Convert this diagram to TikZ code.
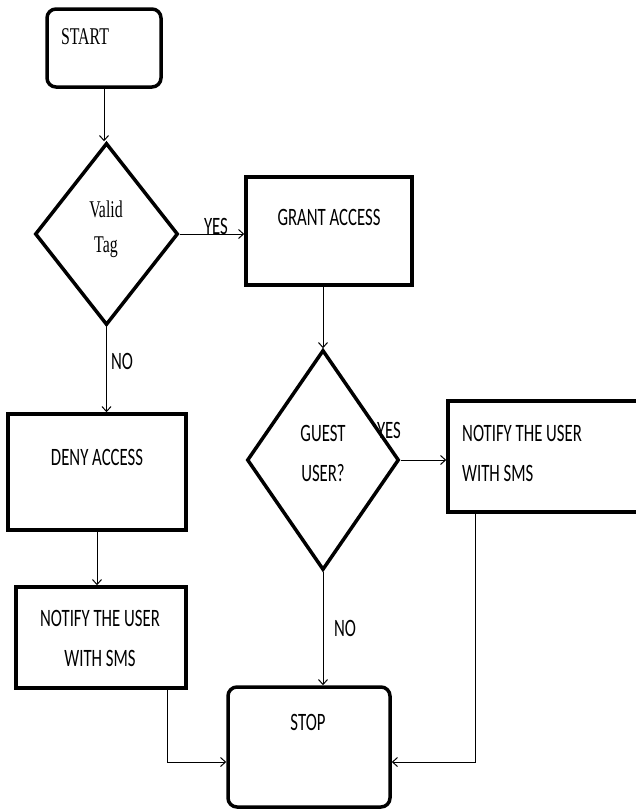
\documentclass[tikz,border=0pt]{standalone}
\usepackage{fontspec}
\newfontfamily\sansf[FakeStretch=0.67]{Carlito}
\newfontfamily\seriff[FakeStretch=0.66]{Liberation Serif}
\usetikzlibrary{arrows.meta,shapes.geometric}
\begin{document}
\begin{tikzpicture}[x=1pt,y=-1pt,
  box/.style={draw,line width=3.5pt,rectangle,inner sep=0pt},
  rbox/.style={box,rounded corners=9pt},
  dia/.style={draw,line width=3.5pt,diamond,inner sep=0pt},
  conn/.style={line width=1pt,-{Straight Barb[length=5pt,width=9pt]}},
  txt/.style={inner sep=0pt,font=\sansf\fontsize{25}{40}\selectfont},
  stxt/.style={inner sep=0pt,font=\seriff\fontsize{24}{35}\selectfont}]
\useasboundingbox (0,0) rectangle (636,809);
\clip (0,0) rectangle (636,809);
% shapes
\node[rbox,minimum width=114pt,minimum height=78pt] (start) at (104,48) {};
\node[dia,minimum width=143pt,minimum height=182pt] (valid) at (106.5,234) {};
\node[box,minimum width=166pt,minimum height=108pt] (grant) at (329,231) {};
\node[dia,minimum width=152pt,minimum height=220pt] (guest) at (323,460) {};
\node[box,minimum width=197pt,minimum height=111pt] (notr) at (546.5,456.5) {};
\node[box,minimum width=178pt,minimum height=116pt] (deny) at (97,472) {};
\node[box,minimum width=170pt,minimum height=101pt] (notl) at (101,637.5) {};
\node[rbox,minimum width=162pt,minimum height=120pt] (stop) at (309,747) {};
% texts
\node[stxt] (tstart) at (85,37) {START};
\node[stxt,align=center] (tvalid) at (106,229) {Valid\\Tag};
\node[txt] (tgrant) at (329,217) {GRANT ACCESS};
\node[txt,align=center] (tguest) at (323,453) {GUEST\\USER?};
\node[txt,align=left,anchor=west] (tnotr) at (462,453) {NOTIFY THE USER\\WITH SMS};
\node[txt] (tdeny) at (97,457) {DENY ACCESS};
\node[txt,align=center] (tnotl) at (100,638) {NOTIFY THE USER\\WITH SMS};
\node[txt] (tstop) at (308,722) {STOP};
\node[txt] (yes1) at (216,226) {YES};
\node[txt] (no1) at (122,361) {NO};
\node[txt] (yes2) at (389,430) {YES};
\node[txt] (no2) at (345,628) {NO};
% connectors
\draw[conn] (start.south) -- (start.south |- valid.north);
\draw[conn] (valid.east) -- (valid.east -| grant.west);
\draw[conn] (valid.south) -- (valid.south |- deny.north);
\draw[conn] (grant.south -| guest.north) -- (guest.north);
\draw[conn] (deny.south) -- (deny.south |- notl.north);
\draw[conn] (guest.east) -- (guest.east -| notr.west);
\draw[conn] (guest.south) -- (guest.south |- stop.north);
\draw[conn] ([xshift=-20pt]notl.south east) |- ([yshift=-15pt]stop.west);
\draw[conn] ([xshift=29pt]notr.south west) |- ([yshift=-15pt]stop.east);
\end{tikzpicture}
\end{document}
